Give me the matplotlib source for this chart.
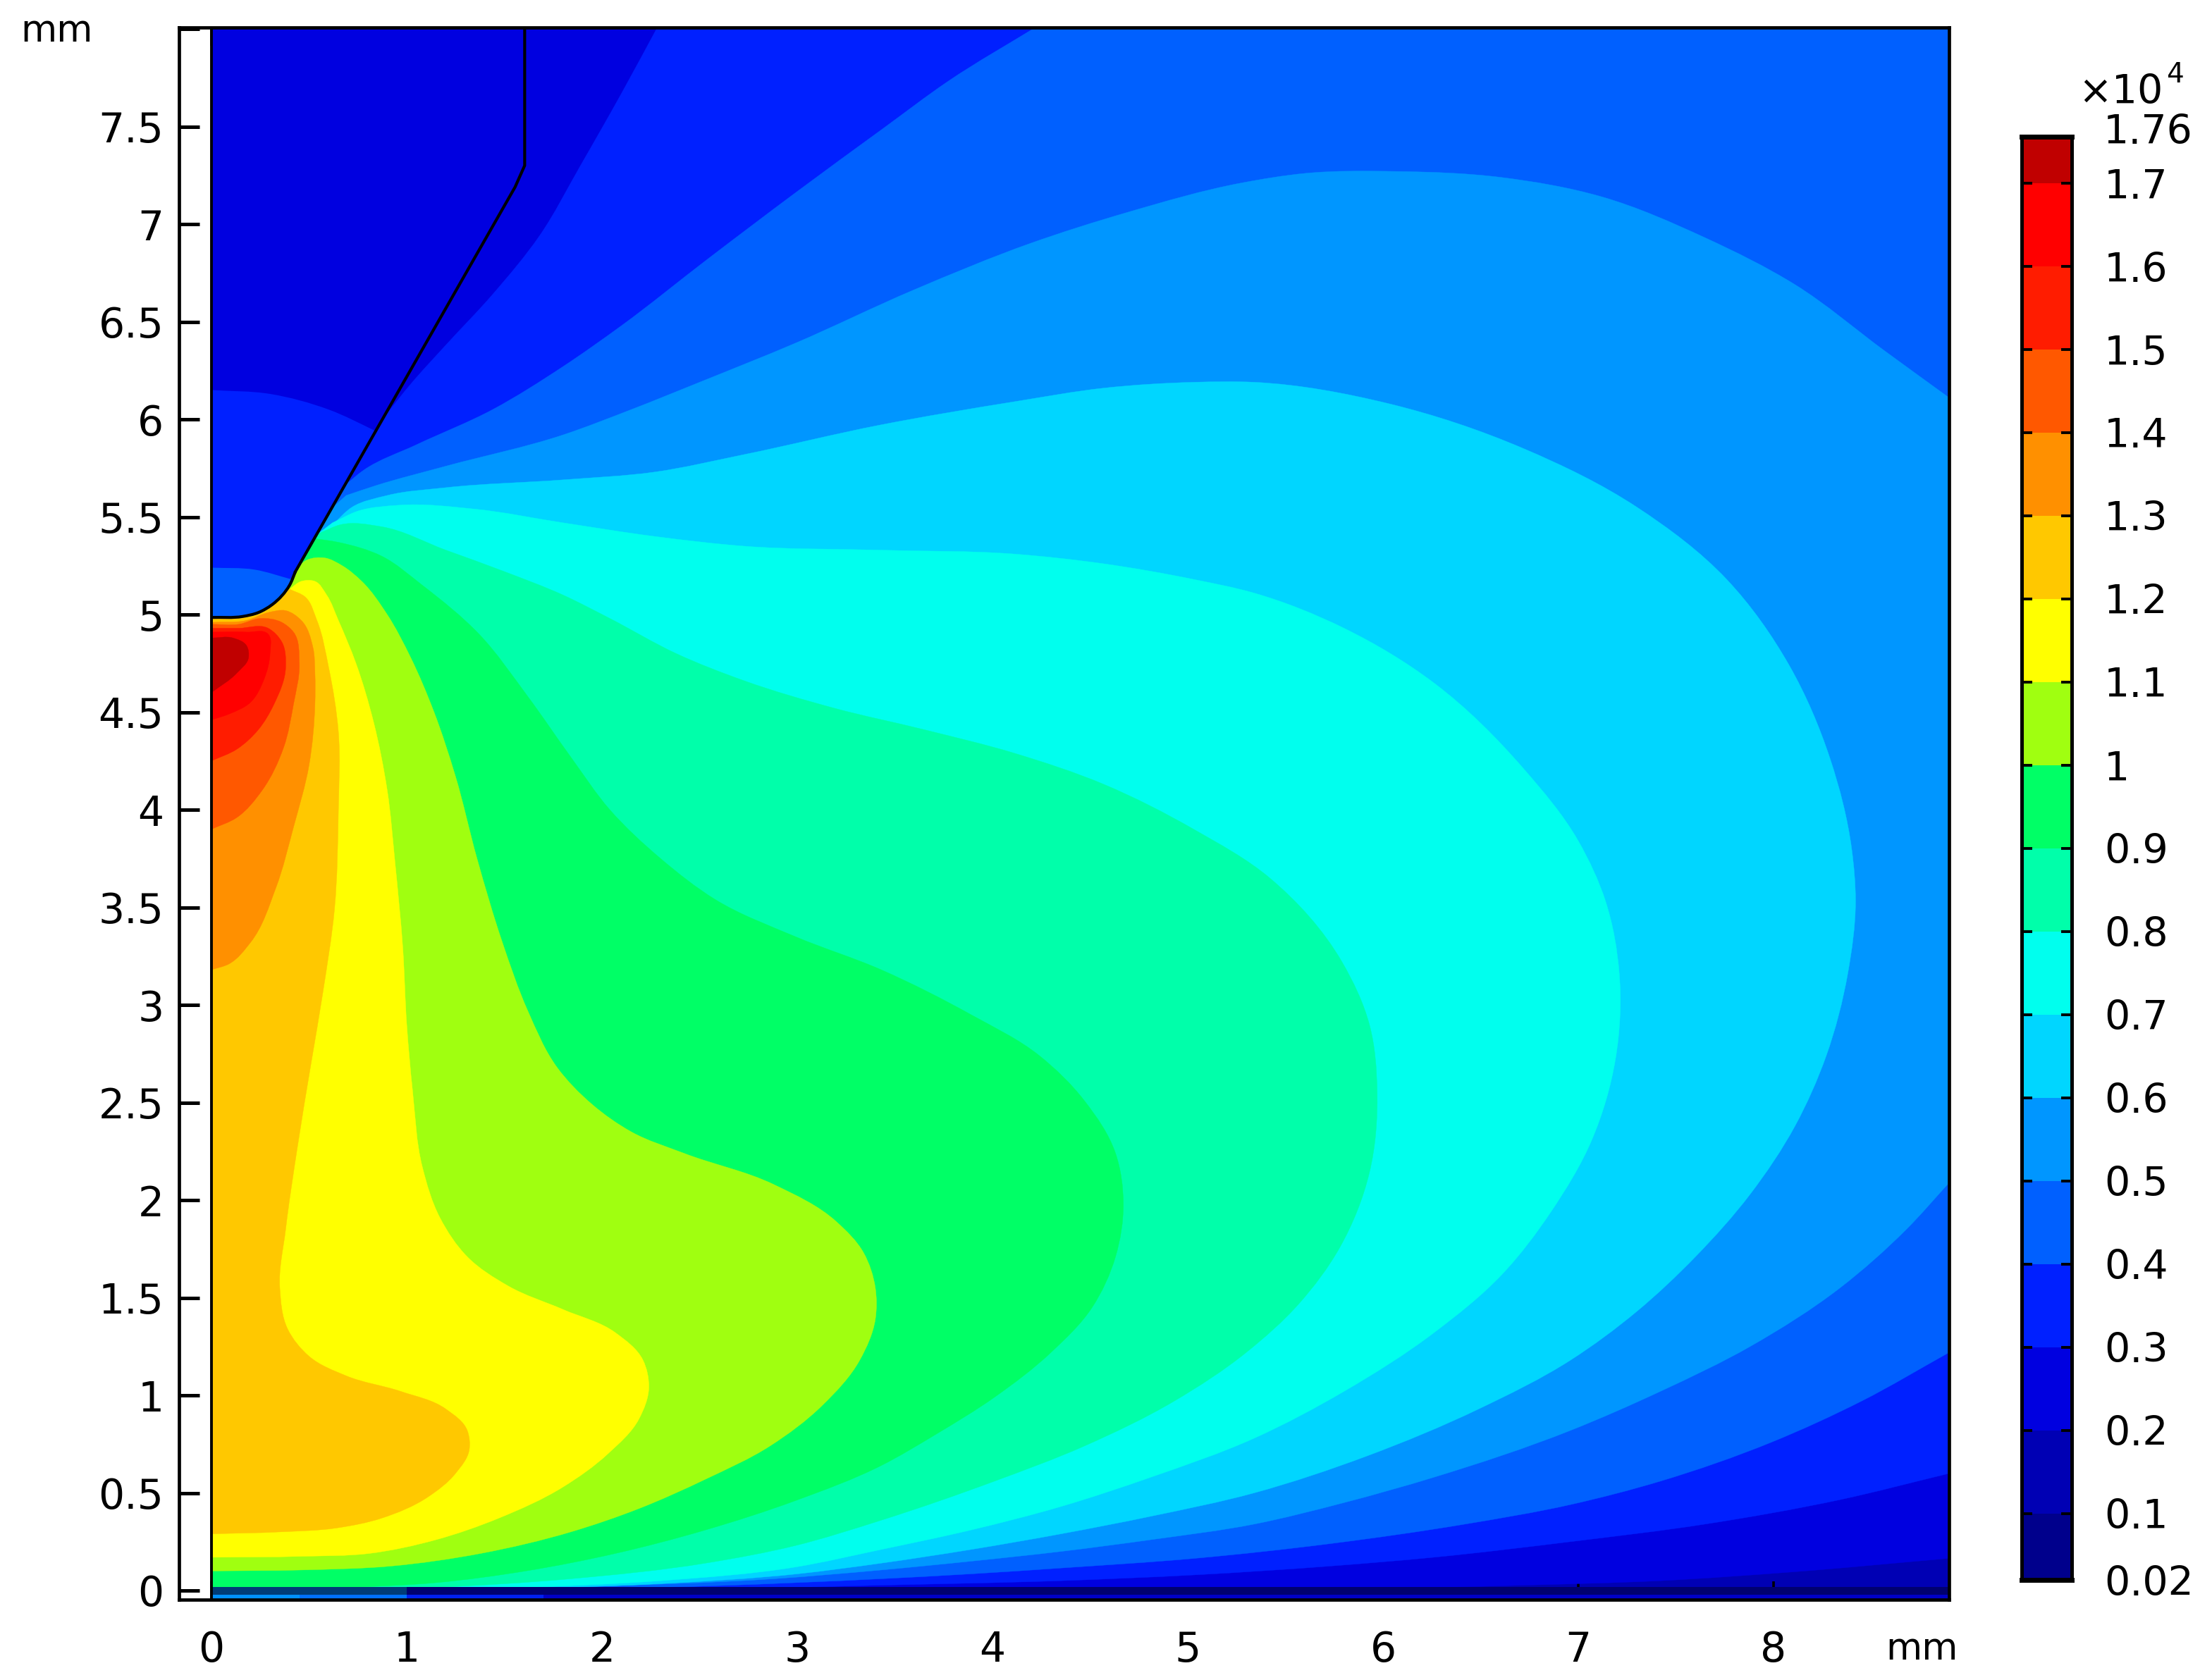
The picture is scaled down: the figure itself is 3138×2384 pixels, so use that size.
import numpy as np
import matplotlib
matplotlib.use("Agg")
import matplotlib.pyplot as plt
from matplotlib.path import Path
from matplotlib.patches import PathPatch

# Colour-band limits (x 10^4) and the band colours
band_edges = [0.02, 0.1, 0.2, 0.3, 0.4, 0.5, 0.6, 0.7, 0.8, 0.9, 1.0, 1.1, 1.2, 1.3, 1.4, 1.5, 1.6, 1.7, 1.756]
band_colors = ['#00008c', '#0000b4', '#0000e0', '#0020ff', '#0060ff', '#0096ff', '#00d6ff', '#00ffee',
               '#00ffaa', '#00ff66', '#a0ff10', '#ffff00', '#ffc800', '#ff9000', '#ff5800', '#ff1c00',
               '#ff0000', '#c00000']
cbar_ticks = [0.02, 0.1, 0.2, 0.3, 0.4, 0.5, 0.6, 0.7, 0.8, 0.9, 1.0, 1.1, 1.2, 1.3, 1.4, 1.5, 1.6, 1.7]
cbar_labels = ['0.02', '0.1', '0.2', '0.3', '0.4', '0.5', '0.6', '0.7', '0.8', '0.9', '1', '1.1', '1.2', '1.3',
               '1.4', '1.5', '1.6', '1.7']
x_ticks = [0, 1, 2, 3, 4, 5, 6, 7, 8]
y_ticks = [0, 0.5, 1, 1.5, 2, 2.5, 3, 3.5, 4, 4.5, 5, 5.5, 6, 6.5, 7, 7.5, 8]
y_tick_labels = ['0', '0.5', '1', '1.5', '2', '2.5', '3', '3.5', '4', '4.5', '5', '5.5', '6', '6.5', '7', '7.5', '']

# Iso-level outlines, (r, z) in mm
c20_low = [(0, 0), (5.0, 0), (6.0, 0.01), (6.72, 0.027), (7.42, 0.05), (8.11, 0.096), (8.90, 0.165)]
c30_low = [(0, 0), (2.5, 0.005), (3.43, 0.027), (4.35, 0.05), (5.04, 0.08), (5.73, 0.125), (6.26, 0.17), (6.96, 0.25), (7.65, 0.34), (8.34, 0.465), (8.90, 0.60)]
c30_top = [(2.29, 8.02), (2.10, 7.67), (1.89, 7.30), (1.68, 6.94), (1.44, 6.64), (1.20, 6.38), (1.02, 6.18), (0.90, 6.03), (0.82, 5.92)]
c40_low = [(0, 0.005), (2.6, 0.025), (3.43, 0.06), (3.89, 0.085), (4.35, 0.115), (5.04, 0.165), (5.73, 0.24), (6.42, 0.34), (6.96, 0.44), (7.42, 0.56), (7.99, 0.76), (8.45, 0.97), (8.90, 1.22)]
c40_top = [(4.24, 8.02), (3.77, 7.73), (3.44, 7.49), (2.99, 7.16), (2.54, 6.82), (2.10, 6.48), (1.80, 6.27), (1.44, 6.05), (1.05, 5.87), (0.78, 5.74), (0.68, 5.66)]
c50_low = [(0, 0.005), (1.9, 0.02), (2.88, 0.06), (3.43, 0.105), (3.89, 0.15), (4.35, 0.20), (4.81, 0.26), (5.34, 0.34), (5.80, 0.45), (6.26, 0.58), (6.96, 0.82), (7.42, 1.02), (7.88, 1.25), (8.34, 1.55), (8.68, 1.85), (8.90, 2.09)]
c50_top = [(8.90, 6.11), (8.57, 6.35), (8.11, 6.69), (7.65, 6.93), (7.12, 7.14), (6.6, 7.24), (6.07, 7.27), (5.6, 7.26), (5.27, 7.21), (4.69, 7.06), (4.19, 6.90), (3.59, 6.66), (2.99, 6.39), (2.50, 6.19), (2.15, 6.05), (1.80, 5.92), (1.20, 5.76), (0.84, 5.66), (0.69, 5.61)]
c60 = [(0, 0.005), (1.6, 0.01), (2.30, 0.035), (3.0, 0.085), (3.43, 0.14), (3.89, 0.21), (4.35, 0.29), (4.81, 0.38), (5.34, 0.50), (5.92, 0.69), (6.49, 0.93), (6.96, 1.18), (7.30, 1.43), (7.60, 1.71), (7.88, 2.03), (8.11, 2.38), (8.27, 2.74), (8.38, 3.16), (8.42, 3.53), (8.40, 3.80), (8.29, 4.26), (8.08, 4.74), (7.76, 5.18), (7.30, 5.55), (6.72, 5.85), (6.03, 6.08), (5.34, 6.19), (5.03, 6.19), (4.57, 6.16), (4.11, 6.09), (3.42, 5.97), (2.73, 5.82), (2.27, 5.73), (1.80, 5.69), (1.20, 5.65), (0.90, 5.61), (0.72, 5.55), (0.62, 5.46)]
c70 = [(0, 0.005), (1.61, 0.016), (2.30, 0.05), (2.99, 0.12), (3.43, 0.21), (3.89, 0.31), (4.35, 0.43), (4.81, 0.58), (5.34, 0.78), (5.80, 1.02), (6.26, 1.32), (6.61, 1.62), (6.86, 1.94), (7.07, 2.31), (7.19, 2.72), (7.21, 3.16), (7.14, 3.53), (7.00, 3.84), (6.72, 4.21), (6.26, 4.65), (5.80, 4.93), (5.34, 5.11), (5.03, 5.18), (4.57, 5.26), (4.11, 5.31), (3.42, 5.33), (2.73, 5.35), (2.27, 5.40), (1.80, 5.47), (1.35, 5.54), (0.96, 5.56), (0.75, 5.53), (0.62, 5.47)]
c80 = [(0, 0.005), (1.15, 0.016), (1.84, 0.06), (2.53, 0.14), (2.99, 0.23), (3.43, 0.36), (4.01, 0.56), (4.47, 0.74), (4.93, 0.97), (5.30, 1.22), (5.57, 1.47), (5.78, 1.76), (5.93, 2.14), (5.97, 2.55), (5.93, 2.90), (5.79, 3.22), (5.42, 3.65), (5.03, 3.90), (4.57, 4.13), (4.11, 4.29), (3.65, 4.41), (3.19, 4.52), (2.73, 4.66), (2.38, 4.80), (2.04, 4.98), (1.80, 5.10), (1.50, 5.22), (1.20, 5.33), (0.87, 5.45), (0.66, 5.46), (0.56, 5.42)]
c90 = [(0, 0.015), (0.69, 0.016), (1.15, 0.04), (1.61, 0.10), (2.07, 0.19), (2.53, 0.31), (2.99, 0.46), (3.43, 0.64), (3.71, 0.80), (4.01, 0.99), (4.30, 1.22), (4.51, 1.45), (4.63, 1.71), (4.67, 1.98), (4.63, 2.24), (4.47, 2.51), (4.24, 2.74), (3.89, 2.95), (3.43, 3.18), (2.99, 3.35), (2.58, 3.54), (2.30, 3.75), (2.04, 4.00), (1.84, 4.27), (1.62, 4.58), (1.37, 4.90), (1.08, 5.15), (0.87, 5.30), (0.65, 5.37), (0.52, 5.39)]
c100 = [(0, 0.10), (0.46, 0.105), (0.92, 0.125), (1.38, 0.19), (1.84, 0.30), (2.19, 0.42), (2.53, 0.57), (2.86, 0.74), (3.13, 0.95), (3.32, 1.18), (3.40, 1.39), (3.40, 1.55), (3.34, 1.73), (3.20, 1.89), (2.88, 2.08), (2.42, 2.24), (2.15, 2.35), (1.95, 2.49), (1.77, 2.68), (1.62, 2.97), (1.49, 3.32), (1.36, 3.75), (1.25, 4.17), (1.14, 4.50), (1.02, 4.78), (0.90, 5.00), (0.77, 5.17), (0.67, 5.25), (0.58, 5.29), (0.49, 5.28), (0.42, 5.22)]
c110 = [(0, 0.17), (0.46, 0.175), (0.81, 0.19), (1.15, 0.26), (1.47, 0.37), (1.80, 0.53), (2.03, 0.70), (2.19, 0.88), (2.24, 1.04), (2.21, 1.18), (2.07, 1.32), (1.80, 1.44), (1.52, 1.56), (1.31, 1.71), (1.17, 1.91), (1.08, 2.17), (1.03, 2.56), (1.00, 2.90), (0.98, 3.29), (0.94, 3.73), (0.90, 4.10), (0.83, 4.45), (0.74, 4.75), (0.65, 4.97), (0.59, 5.10), (0.53, 5.17), (0.46, 5.17), (0.40, 5.13)]
c120 = [(0, 0.29), (0.35, 0.30), (0.64, 0.32), (0.87, 0.37), (1.11, 0.48), (1.25, 0.60), (1.32, 0.72), (1.31, 0.82), (1.20, 0.93), (0.97, 1.02), (0.69, 1.10), (0.50, 1.20), (0.39, 1.34), (0.35, 1.55), (0.38, 1.85), (0.44, 2.27), (0.51, 2.70), (0.57, 3.06), (0.63, 3.49), (0.65, 3.99), (0.65, 4.40), (0.60, 4.73), (0.54, 4.97), (0.48, 5.09), (0.40, 5.13)]
c130 = [(0, 3.18), (0.09, 3.21), (0.20, 3.32), (0.33, 3.60), (0.42, 3.91), (0.50, 4.23), (0.53, 4.54), (0.53, 4.70), (0.52, 4.83), (0.46, 4.97), (0.38, 5.02), (0.29, 5.01), (0.18, 4.97), (0, 4.96)]
c140 = [(0, 3.90), (0.13, 3.96), (0.26, 4.10), (0.37, 4.32), (0.42, 4.54), (0.45, 4.75), (0.42, 4.91), (0.36, 4.96), (0.25, 4.98), (0.14, 4.95), (0, 4.95)]
c150 = [(0, 4.25), (0.13, 4.31), (0.24, 4.41), (0.32, 4.54), (0.38, 4.73), (0.36, 4.86), (0.29, 4.93), (0.14, 4.93), (0, 4.93)]
c160 = [(0, 4.46), (0.09, 4.49), (0.20, 4.55), (0.27, 4.67), (0.30, 4.80), (0.29, 4.90), (0.18, 4.91), (0, 4.91)]
c170 = [(0, 4.60), (0.13, 4.70), (0.19, 4.78), (0.18, 4.84), (0.11, 4.88), (0, 4.88)]

# Electrode outline and the iso-lines inside it
needle_straight = [(1.604, 8.02), (1.604, 7.30), (1.555, 7.19), (0.43, 5.22)]
needle_tip = [(0.43, 5.22), (0.40, 5.15), (0.31, 5.05), (0.24, 5.01), (0.16, 4.99), (0, 4.985)]
inner30 = [(0, 6.15), (0.30, 6.13), (0.60, 6.05), (0.84, 5.94), (1.2, 5.75)]
inner40 = [(0, 5.24), (0.22, 5.23), (0.41, 5.18), (0.7, 5.1)]

# Strips below the tip plane
strip_r = [0, 0.45, 1.0, 1.7, 8.9]
strip_colors = ['#0090ff', '#0070ff', '#0020f0', '#0000c8']
dark_r = [0, 1.0, 8.9]
dark_colors = ['#003c78', '#000070']


def spline(pts):
    """Bezier path commands running smoothly through the read-off points."""
    p = np.array(pts, float)
    seg = np.diff(p, axis=0)
    d = np.maximum(np.hypot(seg[:, 0], seg[:, 1]), 1e-9)
    t = np.zeros_like(p)
    t[0], t[-1] = seg[0] / d[0], seg[-1] / d[-1]
    for i in range(1, len(p) - 1):
        v = seg[i] / d[i] * d[i - 1] + seg[i - 1] / d[i - 1] * d[i]
        t[i] = v / max(np.hypot(*v), 1e-9)
    verts, codes = [tuple(p[0])], [Path.LINETO]
    for i in range(len(p) - 1):
        verts += [tuple(p[i] + t[i] * d[i] / 3), tuple(p[i + 1] - t[i + 1] * d[i] / 3), tuple(p[i + 1])]
        codes += [Path.CURVE4] * 3
    return verts, codes


def region(*parts):
    """Closed path from pieces: a list of tuples is smoothed, a single tuple is a straight corner."""
    verts, codes = [], []
    for part in parts:
        if isinstance(part, list):
            v, c = spline(part)
        else:
            v, c = [part], [Path.LINETO]
        verts += v
        codes += c
    codes[0] = Path.MOVETO
    verts.append(verts[0])
    codes.append(Path.CLOSEPOLY)
    return Path(verts, codes)


W, H = 3138, 2384
fig = plt.figure(figsize=(W / 100, H / 100), dpi=100, facecolor='white')
plt.rcParams['font.family'] = ['DejaVu Sans']
L, R, T, B = 254, 2765, 39, 2270
ax = fig.add_axes([L / W, 1 - B / H, (R - L) / W, (B - T) / H])
ax.set_xlim((L - 300) / 277, (R - 300) / 277)
ax.set_ylim((2257 - B) / 277, (2257 - T) / 277)

tip = (0, 5.0)
top_r, far_r = 8.6, 9.6
ax.fill([0, far_r, far_r, 0], [-0.1, -0.1, top_r, top_r], color=band_colors[1], lw=0)
layers = [
    (2, region(c20_low, (far_r, top_r), (0, top_r))),
    (3, region(c30_low, (far_r, top_r), (c30_top[0][0], top_r), c30_top, tip)),
    (4, region(c40_low, (far_r, top_r), (c40_top[0][0], top_r), c40_top, tip)),
    (5, region(c50_low, (far_r, 2.2), (far_r, 5.9), c50_top, tip)),
    (6, region(c60, tip)), (7, region(c70, tip)), (8, region(c80, tip)), (9, region(c90, tip)),
    (10, region(c100, tip)), (11, region(c110, tip)), (12, region(c120, tip)),
    (13, region(c130)), (14, region(c140)), (15, region(c150)), (16, region(c160)), (17, region(c170)),
]
for idx, path in layers:
    ax.add_patch(PathPatch(path, facecolor=band_colors[idx], edgecolor=band_colors[idx], lw=0.3, zorder=2))

# Strips along the bottom
for i, c in enumerate(dark_colors):
    ax.fill_between(dark_r[i:i + 2], -0.022, 0.018, color=c, lw=0, zorder=3)
for i, c in enumerate(strip_colors):
    ax.fill_between(strip_r[i:i + 2], -0.06, -0.022, color=c, lw=0, zorder=3)

# Electrode
needle = PathPatch(region(needle_tip, (0, top_r), (1.604, top_r), needle_straight[1], needle_straight[2], needle_straight[3]),
                   facecolor=band_colors[2], edgecolor='none', zorder=4)
ax.add_patch(needle)
for curve, idx in ((inner30, 3), (inner40, 4)):
    p = PathPatch(region(curve, (curve[-1][0], 4.9), (0, 4.9)), facecolor=band_colors[idx], edgecolor='none', zorder=5)
    ax.add_patch(p)
    p.set_clip_path(needle.get_path(), needle.get_transform())

outline_x = [q[0] for q in needle_straight]
outline_y = [q[1] for q in needle_straight]
ax.plot(outline_x, outline_y, color='black', lw=3.0, zorder=6, solid_joinstyle='round')
v, c = spline(needle_tip)
c[0] = Path.MOVETO
ax.add_patch(PathPatch(Path(v, c), facecolor='none', edgecolor='black', lw=3.0, zorder=6))
ax.plot([0, 0], [-0.06, 8.02], color='black', lw=2.8, zorder=6)

ax.set_xticks(x_ticks)
ax.set_yticks(y_ticks)
ax.set_yticklabels(y_tick_labels)
ax.tick_params(axis='x', which='major', direction='in', top=True, bottom=True, length=19, width=2.6, labelsize=42, pad=31, zorder=8)
ax.tick_params(axis='y', which='major', direction='in', left=True, right=True, length=21, width=3.6, labelsize=42, pad=15.5, zorder=8)
for s in ax.spines.values():
    s.set_linewidth(3.4)
    s.set_zorder(9)
for t in ax.get_xticklines() + ax.get_yticklines():
    t.set_zorder(8)

# Colour bar
cL, cR, cT, cB = 2868, 2939, 194, 2242
cax = fig.add_axes([cL / W, 1 - cB / H, (cR - cL) / W, (cB - cT) / H])
cax.set_xlim(0, 1)
cax.set_ylim(band_edges[0], band_edges[-1])
for lo, hi, col in zip(band_edges[:-1], band_edges[1:], band_colors):
    cax.bar(0.5, hi - lo, width=1, bottom=lo, color=col, lw=0)
cax.set_xticks([])
cax.yaxis.tick_right()
cax.set_yticks(cbar_ticks)
cax.set_yticklabels(cbar_labels)
cax.tick_params(axis='y', direction='in', left=True, right=True, length=11, width=2.8, labelsize=41, pad=33)
for name, s in cax.spines.items():
    s.set_linewidth(5.0 if name in ('top', 'bottom') else 3.6)

fig.text(2984 / W, 1 - 188 / H, '1.76', fontsize=41, ha='left', va='center')
fig.text(2948 / W, 1 - 147 / H, '\u00d710', fontsize=41, ha='left', va='baseline')
fig.text(3073 / W, 1 - 117 / H, '4', fontsize=28, ha='left', va='baseline')
fig.text(80 / W, 1 - 44 / H, 'mm', fontsize=38, ha='center', va='center')
fig.text(2726 / W, 1 - 2340 / H, 'mm', fontsize=38, ha='center', va='center')

fig.savefig('out.png', dpi=100, facecolor='white')
